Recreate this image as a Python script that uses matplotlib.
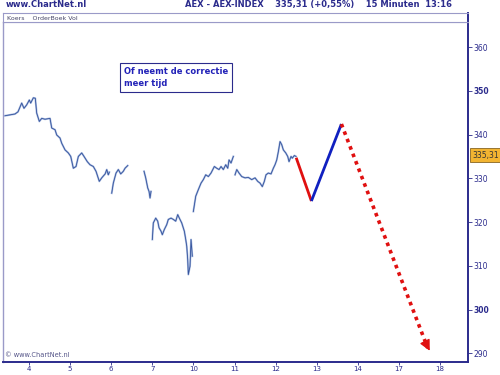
import matplotlib
matplotlib.use("Agg")
import matplotlib.pyplot as plt
import numpy as np

# x in trading-day units (0 = day "4"), price in index points
seg1_x = [-0.584, -0.341, -0.268, -0.178, -0.122, -0.056, 0.007, 0.041, 0.105, 0.153,
          0.187, 0.251, 0.309, 0.389, 0.511, 0.552, 0.633, 0.674, 0.754, 0.796,
          0.876, 0.956, 1.015, 1.078, 1.144, 1.200, 1.282, 1.338, 1.418, 1.484,
          1.564, 1.630, 1.710, 1.769, 1.852, 1.891, 1.929, 1.954]
seg1_y = [344.3, 344.7, 345.2, 347.2, 346.0, 346.8, 347.9, 347.2, 348.4, 348.3,
          344.9, 343.0, 343.7, 343.5, 343.7, 341.5, 341.1, 339.9, 339.2, 338.0,
          336.5, 335.8, 335.0, 332.3, 332.7, 335.0, 335.8, 335.0, 333.8, 333.1,
          332.7, 331.6, 329.3, 330.1, 331.0, 332.0, 330.8, 331.4]
seg2_x = [2.012, 2.051, 2.117, 2.173, 2.231, 2.294, 2.336, 2.401]
seg2_y = [326.6, 328.9, 331.2, 332.0, 331.0, 331.6, 332.3, 332.9]
seg3_x = [2.798, 2.839, 2.888, 2.920, 2.944, 2.968]
seg3_y = [331.6, 330.1, 327.8, 327.0, 325.5, 327.0]
seg4_x = [3.000, 3.024, 3.083, 3.131, 3.163, 3.212, 3.243, 3.292, 3.350, 3.389,
          3.455, 3.511, 3.569, 3.618, 3.657, 3.715, 3.779, 3.813, 3.837, 3.861,
          3.876, 3.917, 3.942, 3.973]
seg4_y = [316.0, 319.8, 320.9, 320.2, 318.7, 317.9, 317.1, 318.3, 319.4, 320.6,
          320.9, 320.6, 320.2, 321.7, 320.9, 319.8, 317.9, 316.0, 314.5, 311.4,
          308.0, 309.9, 316.0, 312.2]
seg5_x = [3.998, 4.056, 4.119, 4.185, 4.241, 4.299, 4.363, 4.428, 4.509, 4.567,
          4.623, 4.672, 4.727, 4.786, 4.835, 4.866, 4.915, 4.971]
seg5_y = [322.4, 325.9, 327.4, 328.9, 329.7, 330.8, 330.4, 331.2, 332.7, 332.3,
          332.0, 332.7, 332.0, 333.1, 332.3, 334.2, 333.5, 335.0]
seg6_x = [5.012, 5.054, 5.109, 5.175, 5.255, 5.336, 5.418, 5.499, 5.564, 5.620,
          5.676, 5.725, 5.766, 5.822, 5.888, 5.944, 5.985, 6.027, 6.066, 6.107,
          6.148, 6.187, 6.246, 6.294, 6.326, 6.375, 6.406, 6.455, 6.496]
seg6_y = [330.8, 332.0, 331.2, 330.4, 330.1, 330.2, 329.7, 330.1, 329.3, 328.9,
          328.1, 329.3, 330.8, 331.2, 331.0, 332.3, 333.1, 334.2, 336.1, 338.4,
          337.7, 336.5, 335.8, 335.0, 333.8, 335.0, 334.6, 335.2, 335.0]

# scenario path
down_x = [6.50, 6.87]
down_y = [334.7, 324.8]
up_x = [6.87, 7.60]
up_y = [324.8, 342.4]
fall_x = [7.60, 9.70]
fall_y = [342.4, 291.2]
arrow_tip = (9.78, 290.0)

day_labels = ['4', '5', '6', '7', '10', '11', '12', '13', '14', '17', '18']
price_ticks = [290, 300, 310, 320, 330, 340, 350, 360]
last_price = 335.31

navy = '#2b2b8c'

fig = plt.figure(figsize=(5, 3.75), dpi=100)
fig.patch.set_facecolor('white')

ax = fig.add_axes([0.006, 0.034, 0.930, 0.907])
ax.set_facecolor('white')

segments = [(seg1_x, seg1_y), (seg2_x, seg2_y), (seg3_x, seg3_y),
            (seg4_x, seg4_y), (seg5_x, seg5_y), (seg6_x, seg6_y)]
for sx, sy in segments:
    ax.plot(sx, sy, color='#a9bbe0', lw=1.4)
    ax.plot(sx, sy, color='#34539c', lw=0.6)

ax.plot(down_x, down_y, color='#e01010', lw=2.0, solid_capstyle='butt')
ax.plot(up_x, up_y, color='#1020c0', lw=2.0, solid_capstyle='butt')
ax.plot(fall_x, fall_y, color='#e01010', lw=2.6, linestyle=(0, (1, 1.2)))
ax.annotate('', xy=arrow_tip, xytext=(fall_x[1] - 0.05, fall_y[1] + 1.2),
            arrowprops=dict(arrowstyle='-|>', color='#e01010', lw=1,
                            mutation_scale=16))

ax.set_xlim(-0.633, 10.68)
ax.set_ylim(287.95, 365.7)

ax.yaxis.tick_right()
ax.set_yticks(price_ticks)
ax.set_yticklabels([str(p) for p in price_ticks])
for lab, p in zip(ax.get_yticklabels(), price_ticks):
    if p % 50 == 0:
        lab.set_fontweight('bold')
        lab.set_fontsize(6)
ax.tick_params(axis='y', length=3, width=0.6, color=navy, labelcolor=navy,
               labelsize=5.5, pad=1)
ax.set_xticks(range(len(day_labels)))
ax.set_xticklabels(day_labels)
ax.tick_params(axis='x', length=2, width=0.6, color=navy, labelcolor=navy,
               labelsize=5, pad=0.5)

for side in ['right', 'bottom']:
    ax.spines[side].set_color(navy)
    ax.spines[side].set_linewidth(1.4)
ax.spines['left'].set_color('#9a9ac8')
ax.spines['left'].set_linewidth(1.0)
ax.spines['top'].set_color('#9a9ac8')
ax.spines['top'].set_linewidth(0.8)

# header strip
hx = fig.add_axes([0.006, 0.941, 0.930, 0.024])
hx.set_xticks([])
hx.set_yticks([])
for side in ['left', 'top', 'bottom']:
    hx.spines[side].set_color('#9a9ac8')
    hx.spines[side].set_linewidth(0.8)
hx.spines['right'].set_color(navy)
hx.spines['right'].set_linewidth(1.4)
hx.text(0.008, 0.45, 'Koers    OrderBoek Vol', fontsize=4.5, color='#444466',
        va='center', ha='left', transform=hx.transAxes)

fig.text(0.012, 0.987, 'www.ChartNet.nl', fontsize=6, fontweight='bold',
         color=navy, va='center', ha='left')
fig.text(0.37, 0.987, 'AEX - AEX-INDEX    335,31 (+0,55%)    15 Minuten  13:16',
         fontsize=6, fontweight='bold', color=navy, va='center', ha='left')

ax.text(0.004, 0.012, '\u00a9 www.ChartNet.nl', fontsize=4.8, color='#555588',
        transform=ax.transAxes, va='bottom', ha='left')

ax.text(0.260, 0.868, 'Of neemt de correctie\nmeer tijd', transform=ax.transAxes,
        fontsize=6, fontweight='bold', color='#2222b8', va='top', ha='left',
        linespacing=1.45,
        bbox=dict(boxstyle='square,pad=0.45', fc='white', ec=navy, lw=0.8))

ax.annotate(f'{last_price:.2f}'.replace('.', ','), xy=(1.0, last_price),
            xycoords=('axes fraction', 'data'), xytext=(3, 0),
            textcoords='offset points', fontsize=5.5, color='#333333',
            va='center', ha='left', annotation_clip=False,
            bbox=dict(boxstyle='square,pad=0.3', fc='#f2b431', ec='#886622', lw=0.6))

fig.savefig('out.png', dpi=100, facecolor='white')
